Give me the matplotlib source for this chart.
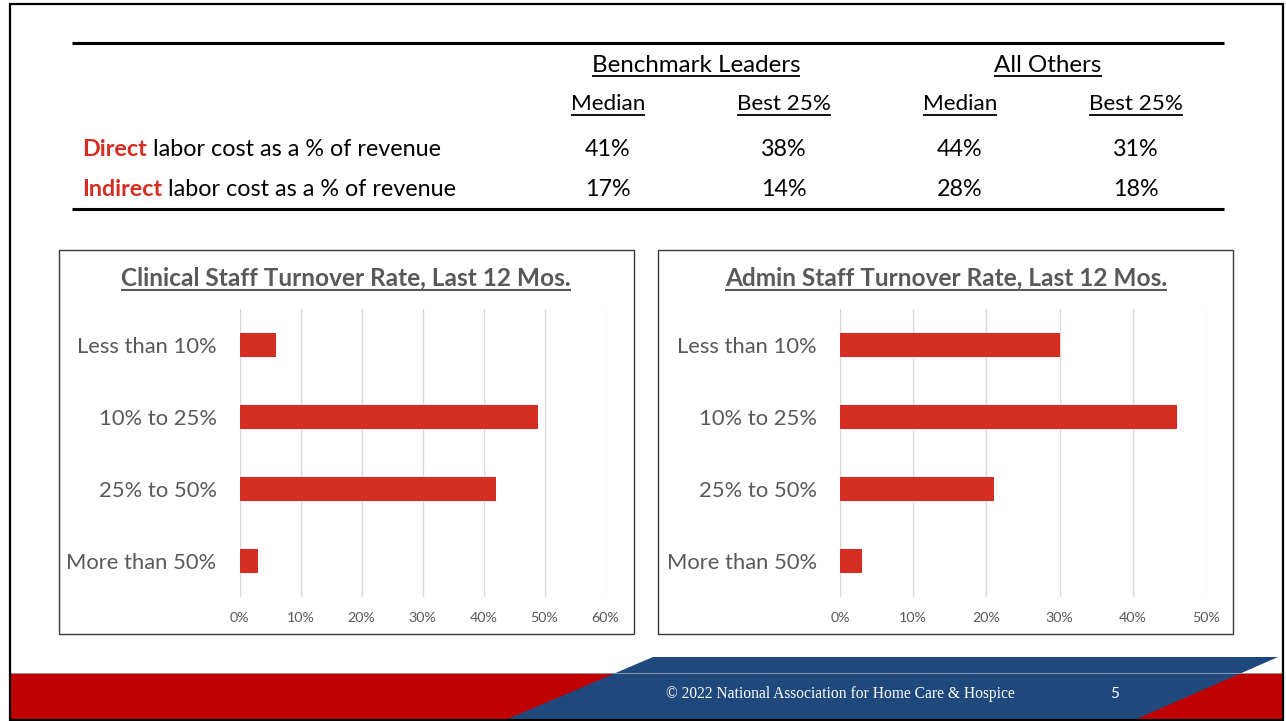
import matplotlib
matplotlib.use("Agg")
import matplotlib.pyplot as plt
from matplotlib.patches import Rectangle, Polygon
from matplotlib.ticker import FuncFormatter, MultipleLocator

plt.rcParams["font.family"] = ["Lato", "DejaVu Sans"]

# ---- data ----
groups = ["Benchmark Leaders", "All Others"]
sub_cols = ["Median", "Best 25%", "Median", "Best 25%"]
row_keys = ["Direct", "Indirect"]
row_rest = " labor cost as a % of revenue"
direct_vals = ["41%", "38%", "44%", "31%"]
indirect_vals = ["17%", "14%", "28%", "18%"]

categories = ["Less than 10%", "10% to 25%", "25% to 50%", "More than 50%"]
clinical = [0.06, 0.49, 0.42, 0.03]
admin = [0.30, 0.46, 0.21, 0.03]

RED = "#D42D21"
GRAY = "#595959"
W, H = 1286, 721
FS = 16.8

fig = plt.figure(figsize=(W / 100, H / 100), dpi=100)
bg = fig.add_axes([0, 0, 1, 1])
bg.set_xlim(0, W)
bg.set_ylim(H, 0)
bg.axis("off")
renderer = fig.canvas.get_renderer()


def underline(t, y, lw=1.3, color="black"):
    bb = t.get_window_extent(renderer)
    bg.plot([bb.x0, bb.x1], [y, y], color=color, lw=lw, solid_capstyle="butt")


# ---- table ----
bg.plot([72, 1224], [43, 43], color="black", lw=2.2, solid_capstyle="butt")
bg.plot([72, 1224], [209, 209], color="black", lw=2.2, solid_capstyle="butt")

group_x = [696, 1048]
for g, gx in zip(groups, group_x):
    t = bg.text(gx, 71.5, g, ha="center", va="baseline", fontsize=FS + 0.6)
    underline(t, 75.5)

col_x = [608, 784, 960, 1136]
for c, cx in zip(sub_cols, col_x):
    t = bg.text(cx, 110.5, c, ha="center", va="baseline", fontsize=FS - 0.6)
    underline(t, 114.5)

row_y = [156, 196.5]
for key, vals, ry in zip(row_keys, [direct_vals, indirect_vals], row_y):
    t = bg.text(82, ry, key, ha="left", va="baseline", fontsize=FS,
                fontweight="bold", color=RED)
    bb = t.get_window_extent(renderer)
    bg.text(bb.x1, ry, row_rest, ha="left", va="baseline", fontsize=FS)
    for v, cx in zip(vals, col_x):
        bg.text(cx, ry, v, ha="center", va="baseline", fontsize=FS)

# ---- chart boxes ----
boxes = [(59, 250, 634, 634), (658, 250, 1233, 634)]
for x0, y0, x1, y1 in boxes:
    bg.add_patch(Rectangle((x0, y0), x1 - x0, y1 - y0, fill=False,
                           edgecolor="#3A3A3A", lw=1.0))

titles = ["Clinical Staff Turnover Rate, Last 12 Mos.",
          "Admin Staff Turnover Rate, Last 12 Mos."]
title_x = [346, 946]
for tt, tx in zip(titles, title_x):
    t = bg.text(tx, 285.5, tt, ha="center", va="baseline", fontsize=17.6,
                fontweight="bold", color=GRAY)
    underline(t, 290, lw=1.5, color=GRAY)


def bar_chart(left, right, values, xmax):
    top, bottom = 309, 597
    ax = fig.add_axes([left / W, 1 - bottom / H, (right - left) / W,
                       (bottom - top) / H])
    ax.patch.set_alpha(0)
    ax.barh(range(len(categories)), values, height=0.335, color=RED,
            zorder=3)
    ax.set_ylim(len(categories) - 0.5, -0.5)
    ax.set_xlim(0, xmax)
    ax.xaxis.set_major_locator(MultipleLocator(0.1))
    ax.xaxis.set_major_formatter(FuncFormatter(lambda v, p: f"{v*100:.0f}%"))
    ax.set_yticks(range(len(categories)))
    ax.set_yticklabels(categories)
    ax.grid(axis="x", color="#D9D9D9", lw=1.0, zorder=0)
    for s in ax.spines.values():
        s.set_visible(False)
    ax.tick_params(axis="both", length=0, colors=GRAY)
    ax.tick_params(axis="y", labelsize=15.8, pad=16.5)
    ax.tick_params(axis="x", labelsize=10.3, pad=11)
    return ax


bar_chart(239.5, 605.5, clinical, 0.6)
bar_chart(840, 1206, admin, 0.5)

# ---- footer ----
bg.add_patch(Rectangle((10, 673), 1273, 48, color="#C00000", lw=0))
bg.plot([10, 1283], [672.5, 672.5], color="#9DA8BD", lw=0.6)
bg.add_patch(Polygon([(653, 657), (1278, 657), (1132, 721), (503, 721)],
                     closed=True, color="#1F497D", lw=0))
bg.text(840, 694, "\u00a9 2022 National Association for Home Care & Hospice",
        ha="center", va="center", color="white", fontsize=11.2,
        family="Liberation Serif")
bg.text(1115, 694, "5", ha="center", va="center", color="white", fontsize=11)

# slide frame
bg.add_patch(Rectangle((9.5, 4), 1273.5, 716, fill=False, edgecolor="black",
                       lw=1.6, zorder=10))

fig.savefig("out.png", dpi=100)
